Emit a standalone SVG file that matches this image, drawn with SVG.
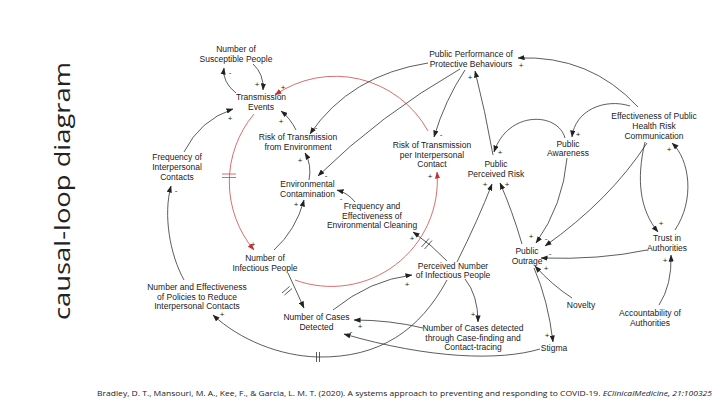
<svg xmlns="http://www.w3.org/2000/svg" width="720" height="405" viewBox="0 0 720 405">
<style>
.n{font-family:"Liberation Sans",Arial,sans-serif;font-size:8.5px;fill:#222;text-anchor:middle}
.s{font-family:"Liberation Sans",Arial,sans-serif;font-size:8px;fill:#222;text-anchor:middle}
.c{fill:none;stroke:#333;stroke-width:0.8;marker-end:url(#ah)}
.r{fill:none;stroke:#d04848;stroke-width:0.8}
.ra{marker-end:url(#ahr)}
.d{stroke:#333;stroke-width:0.8;fill:none}
.dr{stroke:#d04848;stroke-width:0.8;fill:none}
</style>
<defs>
<marker id="ah" viewBox="0 0 8 6" refX="7.5" refY="3" markerWidth="7" markerHeight="5.5" orient="auto" markerUnits="userSpaceOnUse"><path d="M0,0 L8,3 L0,6 z" fill="#222"/></marker>
<marker id="ahr" viewBox="0 0 8 6" refX="7.5" refY="3" markerWidth="7" markerHeight="5.5" orient="auto" markerUnits="userSpaceOnUse"><path d="M0,0 L8,3 L0,6 z" fill="#c83030"/></marker>
</defs>
<rect width="720" height="405" fill="#fff"/>
<text transform="translate(70,191) rotate(-90)" text-anchor="middle" font-family="'Open Sans','DejaVu Sans',sans-serif" font-size="22" fill="#222" textLength="258" lengthAdjust="spacingAndGlyphs">causal-loop diagram</text>

<g id="connectors">
<path class="r ra" d="M428,131 A106,106 0 0 0 275,95"/>
<path class="r ra" d="M254,114 A106,106 0 0 0 254,250"/>
<path class="r ra" d="M295,280 A106,106 0 0 0 437,172"/>
<path class="dr" d="M222,174 L236,174 M222,177.5 L236,177.5"/>

<path class="c" d="M253,64 Q264,74 263,90"/>
<path class="c" d="M236,93 Q222,82 224,68"/>
<path class="c" d="M184,152 Q200,120 233,109"/>
<path class="c" d="M296,130 Q290,118 281,111"/>
<path class="c" d="M309,180 Q312,165 305,153"/>
<path class="c" d="M274,250 Q296,230 304,200"/>
<path class="c" d="M355,202 Q348,193 337,190"/>
<path class="c" d="M428,63 Q350,75 310,134"/>
<path class="c" d="M460,69 Q380,115 318,176"/>
<path class="c" d="M465,70 Q445,100 434,137"/>
<path class="c" d="M493,155 Q485,110 475,71"/>
<path class="c" d="M565,138 C558,112 508,110 494,152"/>
<path class="c" d="M567,158 Q563,205 536,243"/>
<path class="c" d="M647,143 Q610,200 545,246"/>
<path class="c" d="M638,107 Q590,55 518,58"/>
<path class="c" d="M630,106 C605,98 575,110 572,137"/>
<path class="c" d="M645,142 C636,180 640,210 658,232"/>
<path class="c" d="M675,230 C695,200 690,160 672,143"/>
<path class="c" d="M647,250 Q600,260 541,258"/>
<path class="c" d="M659,305 Q672,285 671,255"/>
<path class="c" d="M572,298 Q552,285 535,266"/>
<path class="c" d="M534,268 Q548,300 553,342"/>
<path class="c" d="M522,244 Q512,210 500,183"/>
<path class="c" d="M457,262 Q478,220 492,184"/>
<path class="c" d="M447,261 Q432,245 413,232"/>
<path class="d" d="M421.5,247 L429,238.5 M424.5,249 L432,240.5"/>
<path class="c" d="M333,310 Q370,280 412,275"/>
<path class="c" d="M465,279 Q478,295 478,322"/>
<path class="c" d="M423,328 Q390,320 354,320"/>
<path class="c" d="M540,349 C500,361 430,359 344,334"/>
<path class="c" d="M447,280 C420,330 380,358 318,357 C280,356 240,340 213,315"/>
<path class="d" d="M316.5,352 L316.5,362 M319.5,352 L319.5,362"/>
<path class="c" d="M184,280 C170,255 163,215 171,186"/>
<path class="c" d="M288,273 L304,308"/>
<path class="d" d="M282,293 L289.5,286.5 M284.5,295 L292,288.5"/>
</g>

<g id="polarities">
<text class="s" x="230" y="75">-</text>
<text class="s" x="257" y="87">+</text>
<text class="s" x="283" y="90">+</text>
<text class="s" x="230" y="121">+</text>
<text class="s" x="281" y="124">+</text>
<text class="s" x="316" y="130">-</text>
<text class="s" x="300" y="163">+</text>
<text class="s" x="326" y="177.5">-</text>
<text class="s" x="341" y="201">-</text>
<text class="s" x="296" y="207">+</text>
<text class="s" x="176" y="193">-</text>
<text class="s" x="253" y="247">+</text>
<text class="s" x="222" y="316.5">+</text>
<text class="s" x="360" y="329">+</text>
<text class="s" x="351" y="334">-</text>
<text class="s" x="407" y="287">+</text>
<text class="s" x="473" y="317">+</text>
<text class="s" x="412" y="241">+</text>
<text class="s" x="430" y="179">+</text>
<text class="s" x="441" y="137">-</text>
<text class="s" x="470" y="80">+</text>
<text class="s" x="500" y="155">+</text>
<text class="s" x="485" y="187">+</text>
<text class="s" x="507" y="187">+</text>
<text class="s" x="521" y="68">+</text>
<text class="s" x="578" y="137">+</text>
<text class="s" x="669" y="152">+</text>
<text class="s" x="661" y="226">+</text>
<text class="s" x="531" y="239">+</text>
<text class="s" x="546" y="241">-</text>
<text class="s" x="550" y="256">-</text>
<text class="s" x="546" y="271">+</text>
<text class="s" x="665" y="263">+</text>
<text class="s" x="547" y="338">+</text>
</g>

<g id="n-susceptible"><text class="n" x="236" y="52">Number of</text><text class="n" x="236" y="62">Susceptible People</text></g>
<g id="n-transmission"><text class="n" x="261" y="100">Transmission</text><text class="n" x="261" y="110">Events</text></g>
<g id="n-risk-env"><text class="n" x="298" y="140">Risk of Transmission</text><text class="n" x="298" y="150">from Environment</text></g>
<g id="n-freq-contacts"><text class="n" x="177" y="160">Frequency of</text><text class="n" x="177" y="170">Interpersonal</text><text class="n" x="177" y="180">Contacts</text></g>
<g id="n-env-contam"><text class="n" x="307.5" y="187">Environmental</text><text class="n" x="307.5" y="197">Contamination</text></g>
<g id="n-cleaning"><text class="n" x="372" y="209">Frequency and</text><text class="n" x="372" y="218.5">Effectiveness of</text><text class="n" x="372" y="228">Environmental Cleaning</text></g>
<g id="n-infectious"><text class="n" x="265" y="261">Number of</text><text class="n" x="265" y="271">Infectious People</text></g>
<g id="n-policies"><text class="n" x="197" y="290">Number and Effectiveness</text><text class="n" x="197" y="299.5">of Policies to Reduce</text><text class="n" x="197" y="309">Interpersonal Contacts</text></g>
<g id="n-cases-detected"><text class="n" x="316.5" y="320">Number of Cases</text><text class="n" x="316.5" y="330">Detected</text></g>
<g id="n-case-finding"><text class="n" x="473" y="331">Number of Cases detected</text><text class="n" x="473" y="340.5">through Case-finding and</text><text class="n" x="473" y="350">Contact-tracing</text></g>
<g id="n-perceived-number"><text class="n" x="453" y="269">Perceived Number</text><text class="n" x="453" y="278">of Infectious People</text></g>
<g id="n-risk-contact"><text class="n" x="432" y="148">Risk of Transmission</text><text class="n" x="432" y="157.5">per Interpersonal</text><text class="n" x="432" y="167">Contact</text></g>
<g id="n-pppb"><text class="n" x="471" y="57">Public Performance of</text><text class="n" x="471" y="67">Protective Behaviours</text></g>
<g id="n-perceived-risk"><text class="n" x="496" y="167">Public</text><text class="n" x="496" y="177">Perceived Risk</text></g>
<g id="n-awareness"><text class="n" x="568" y="147">Public</text><text class="n" x="568" y="156">Awareness</text></g>
<g id="n-ephrc"><text class="n" x="654" y="119">Effectiveness of Public</text><text class="n" x="654" y="129">Health Risk</text><text class="n" x="654" y="139">Communication</text></g>
<g id="n-trust"><text class="n" x="667" y="241">Trust in</text><text class="n" x="667" y="251">Authorities</text></g>
<g id="n-outrage"><text class="n" x="527" y="254">Public</text><text class="n" x="527" y="264">Outrage</text></g>
<g id="n-novelty"><text class="n" x="581" y="308">Novelty</text></g>
<g id="n-accountability"><text class="n" x="650" y="316">Accountability of</text><text class="n" x="650" y="326">Authorities</text></g>
<g id="n-stigma"><text class="n" x="554" y="351">Stigma</text></g>

<text x="97" y="396" font-family="'Open Sans','DejaVu Sans',sans-serif" font-size="6.5" fill="#222" textLength="615" lengthAdjust="spacingAndGlyphs">Bradley, D. T., Mansouri, M. A., Kee, F., &amp; Garcia, L. M. T. (2020). A systems approach to preventing and responding to COVID-19. <tspan font-style="italic">EClinicalMedicine, 21:100325</tspan></text>
</svg>
